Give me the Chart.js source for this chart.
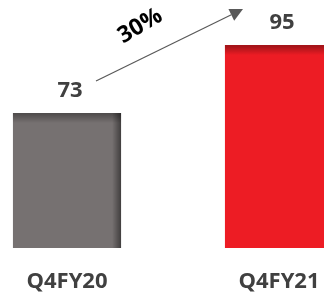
<!DOCTYPE html>
<html>
<head>
<meta charset="utf-8">
<script src="https://cdn.jsdelivr.net/npm/chart.js@4"></script>
<style>
  html, body { margin: 0; padding: 0; overflow: hidden; background: #fff; }
  #wrap { width: 324px; height: 298px; overflow: hidden; position: relative; }
  #growthchart { position: absolute; left: -39px; top: 0; }
</style>
</head>
<body>
<div id="wrap"><canvas id="growthchart" width="424" height="298"></canvas></div>
<script>
// chart data
var quarters = ['Q4FY20', 'Q4FY21'];
var revenue = [73, 95];
var growthLabel = '30%';
var barColors = ['#767171', '#ED1C24'];

var boldFont = 'bold 22px "Open Sans", sans-serif';

// value labels, growth arrow and a bit of bar shading
var extrasPlugin = {
  id: 'extras',
  afterDatasetsDraw: function (chart) {
    var c = chart.ctx;
    var bars = chart.getDatasetMeta(0).data;
    var bottom = chart.chartArea.bottom;
    c.save();

    bars.forEach(function (bar, i) {
      var left = bar.x - bar.width / 2;
      var w = bar.width;
      var h = bottom - bar.y;
      // darker top edge
      var gt = c.createLinearGradient(0, bar.y, 0, bar.y + 10);
      gt.addColorStop(0, 'rgba(0,0,0,0.35)');
      gt.addColorStop(1, 'rgba(0,0,0,0)');
      c.fillStyle = gt;
      c.fillRect(left, bar.y, w, 10);
      // darker right edge
      var gr = c.createLinearGradient(left + w - 9, 0, left + w, 0);
      gr.addColorStop(0, 'rgba(0,0,0,0)');
      gr.addColorStop(1, 'rgba(0,0,0,0.45)');
      c.fillStyle = gr;
      c.fillRect(left + w - 9, bar.y, 9, h);

      // value label
      c.fillStyle = '#404040';
      c.font = boldFont;
      c.textAlign = 'center';
      c.textBaseline = 'alphabetic';
      c.fillText(revenue[i], bar.x + 3, bar.y - 16);
    });

    // growth arrow from first label to second
    var x1 = bars[0].x + 29, y1 = bars[0].y - 32;
    var x2 = bars[1].x - 36, y2 = bars[1].y - 36;
    var ang = Math.atan2(y2 - y1, x2 - x1);
    var headLen = 13, headHalf = 6.5;
    var bx = x2 - headLen * Math.cos(ang), by = y2 - headLen * Math.sin(ang);
    c.strokeStyle = '#595959';
    c.lineWidth = 1.2;
    c.beginPath();
    c.moveTo(x1, y1);
    c.lineTo(bx, by);
    c.stroke();
    c.fillStyle = '#595959';
    c.beginPath();
    c.moveTo(x2, y2);
    c.lineTo(bx - headHalf * Math.sin(ang), by + headHalf * Math.cos(ang));
    c.lineTo(bx + headHalf * Math.sin(ang), by - headHalf * Math.cos(ang));
    c.closePath();
    c.fill();

    // growth percentage, tilted along the arrow
    var mx = (x1 + x2) / 2, my = (y1 + y2) / 2;
    var ux = Math.cos(ang), uy = Math.sin(ang);
    var tx = mx - 18 * ux + 30 * uy;
    var ty = my - 18 * uy - 30 * ux;
    c.translate(tx, ty);
    c.rotate(ang - 0.08);
    c.fillStyle = '#000';
    c.font = 'bold 23px "Open Sans", sans-serif';
    c.textAlign = 'center';
    c.textBaseline = 'middle';
    c.fillText(growthLabel, 0, 0);
    c.restore();
  }
};

var ctx = document.getElementById('growthchart').getContext('2d');

var growthchart = new Chart(ctx, {
  type: 'bar',
  data: {
    labels: quarters,
    datasets: [{
      data: revenue,
      backgroundColor: barColors,
      borderWidth: 0,
      categoryPercentage: 1,
      barPercentage: 0.51
    }]
  },
  options: {
    responsive: false,
    animation: false,
    layout: { padding: 0 },
    plugins: {
      legend: { display: false },
      tooltip: { enabled: false }
    },
    scales: {
      x: {
        grid: { display: false, drawTicks: false },
        border: { display: false },
        ticks: {
          color: '#404040',
          font: { family: '"Open Sans", sans-serif', size: 22, weight: 'bold' },
          padding: 21
        },
        afterFit: function (scale) { scale.height = 50; }
      },
      y: {
        display: false,
        min: 29.3,
        max: 109.6
      }
    }
  },
  plugins: [extrasPlugin]
});
</script>
</body>
</html>
